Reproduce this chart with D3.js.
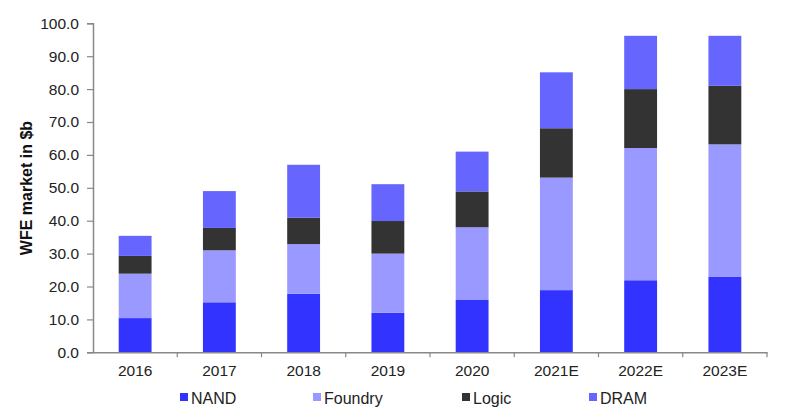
<!DOCTYPE html>
<html><head><meta charset="utf-8">
<script src="https://cdn.jsdelivr.net/npm/d3@7"></script>
<style>body{margin:0;background:#fff}svg{display:block;font-family:"Liberation Sans",Arial,sans-serif}</style>
</head><body>
<svg id="c" width="800" height="415"></svg>
<script>
const categories = ["2016","2017","2018","2019","2020","2021E","2022E","2023E"];
const seriesNames = ["NAND","Foundry","Logic","DRAM"];
const nand    = [10.4, 15.2, 17.8, 12.0, 15.9, 18.9, 21.9, 22.9];
const foundry = [13.5, 15.8, 15.1, 18.0, 22.1, 34.2, 40.2, 40.3];
const logic   = [5.4, 6.8, 8.0, 9.9, 10.9, 15.0, 17.9, 17.8];
const dram    = [6.1, 11.2, 16.1, 11.2, 12.1, 17.0, 16.2, 15.2];
const yTicks  = [0,10,20,30,40,50,60,70,80,90,100];
const colors  = ["#3333ff","#9999ff","#333333","#6666ff"];

const table = categories.map((c,i)=>({cat:c, NAND:nand[i], Foundry:foundry[i], Logic:logic[i], DRAM:dram[i]}));
const stack = d3.stack().keys(seriesNames)(table);

const svg = d3.select("#c");
const mLeft=93, mRight=767, mTop=23.3, mBottom=352.3;
const x = d3.scaleBand().domain(categories).range([mLeft,mRight]).paddingInner(0.61).paddingOuter(0.305);
const y = d3.scaleLinear().domain([0,100]).range([mBottom,mTop]);
const color = d3.scaleOrdinal().domain(seriesNames).range(colors);

svg.append("g").selectAll("g").data(stack).join("g")
  .attr("fill", d=>color(d.key))
  .selectAll("rect").data(d=>d).join("rect")
  .attr("x", d=>x(d.data.cat))
  .attr("width", x.bandwidth())
  .attr("y", d=>y(d[1]))
  .attr("height", d=>y(d[0])-y(d[1]));

// y axis
const ya = svg.append("g").attr("transform",`translate(${mLeft},0)`)
  .call(d3.axisLeft(y).tickValues(yTicks).tickFormat(d3.format(".1f")).tickSize(6).tickPadding(8));
ya.select(".domain").attr("stroke","#888").attr("stroke-width",1.5);
ya.selectAll(".tick line").attr("stroke","#888").attr("stroke-width",1.2);
ya.selectAll(".tick text").attr("font-size",15.5).attr("fill","#222").attr("font-family","Liberation Sans, Arial, sans-serif");

// x axis with boundary ticks
const xa = svg.append("g").attr("transform",`translate(0,${mBottom})`)
  .call(d3.axisBottom(x).tickSize(0).tickPadding(13));
xa.select(".domain").attr("stroke","#888").attr("stroke-width",1.5);
xa.selectAll(".tick text").attr("font-size",15.5).attr("fill","#222").attr("font-family","Liberation Sans, Arial, sans-serif");
const step = x.step();
xa.selectAll(".bt").data(d3.range(1, categories.length+1)).join("line")
  .attr("class","bt")
  .attr("x1", i=>mLeft+i*step).attr("x2", i=>mLeft+i*step)
  .attr("y1",0).attr("y2",5).attr("stroke","#888").attr("stroke-width",1.2);

// y label
svg.append("text").attr("transform","translate(32,188) rotate(-90)")
  .attr("text-anchor","middle").attr("font-size",16).attr("font-weight","bold").attr("fill","#111")
  .text("WFE market in $b");

// legend
const legX = [180, 313, 462, 589];
const lg = svg.append("g").selectAll("g").data(seriesNames).join("g")
  .attr("transform",(d,i)=>`translate(${legX[i]},0)`);
lg.append("rect").attr("x",0).attr("y",393).attr("width",8).attr("height",8).attr("fill",d=>color(d));
lg.append("text").attr("x",11).attr("y",404).attr("font-size",16).attr("fill","#222").text(d=>d);
</script>
</body></html>
